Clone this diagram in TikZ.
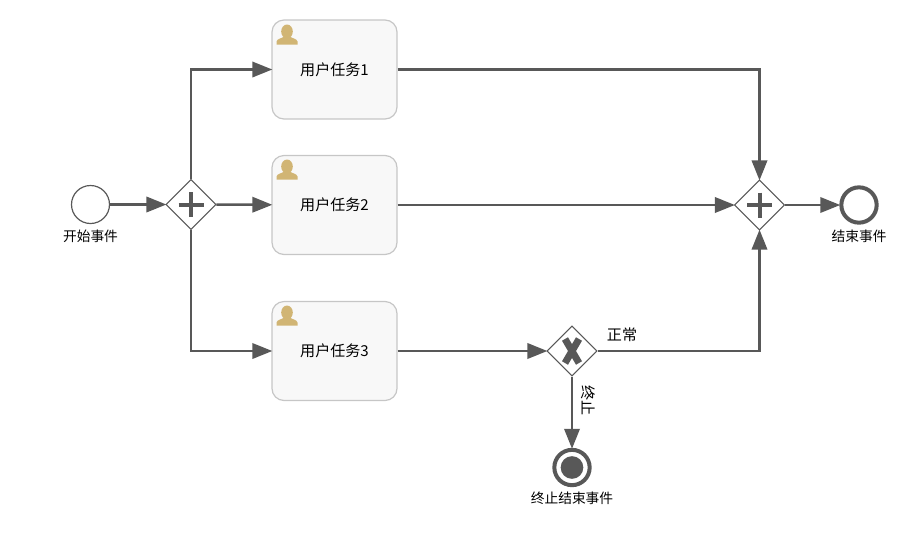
\documentclass[tikz,border=0pt]{standalone}
\usepackage{fontspec}
\setmainfont{Noto Sans CJK SC}
\usetikzlibrary{arrows.meta,positioning,shapes.geometric}
\definecolor{flowgray}{HTML}{585858}
\definecolor{boxgray}{HTML}{C6C6C6}
\definecolor{boxfill}{HTML}{F8F8F8}
\definecolor{icontan}{HTML}{D1B574}
\tikzset{
  flow/.style={draw=flowgray, line width=1.9pt, shorten >=-.7pt, -{Triangle[length=15pt,width=11.5pt]}},
  usertask/.style={draw=boxgray, fill=boxfill, line width=.9pt, rounded corners=9pt,
    minimum width=93.75pt, minimum height=74.25pt, inner sep=0pt, font=\fontsize{11.3}{13}\selectfont},
  gateway/.style={diamond, draw=flowgray, line width=.8pt, fill=white, aspect=1,
    minimum width=37.5pt, minimum height=37.5pt, inner sep=0pt},
  gwplus/.style={gateway, path picture={
    \draw[flowgray, line width=3pt, shift={(path picture bounding box.center)}]
      (-12.5,0)--(12.5,0) (0,-12.5)--(0,12.5);}},
  gwcross/.style={gateway, path picture={
    \draw[flowgray, line width=5.2pt, shift={(path picture bounding box.center)}]
      (-7,-12)--(7,12) (7,-12)--(-7,12);}},
  startev/.style={circle, draw=flowgray, line width=.9pt, fill=white, minimum size=28.5pt, inner sep=0pt},
  endev/.style={circle, draw=flowgray, line width=3pt, fill=white, minimum size=26.5pt, inner sep=0pt},
  termev/.style={endev, path picture={
    \fill[flowgray] (path picture bounding box.center) circle (8.5pt);}},
  evlabel/.style={inner sep=0pt, font=\fontsize{10.3}{12}\selectfont},
  flowlabel/.style={inner sep=0pt, font=\fontsize{11.3}{13}\selectfont},
  usericon/.pic={
    \fill[icontan] (0,-13) ellipse (5.8 and 7);
    \fill[icontan] (-10.5,0) -- (-10.5,-3) .. controls (-10,-6) and (-5,-6) .. (-3,-8)
      -- (3,-8) .. controls (5,-6) and (10,-6) .. (10.5,-3) -- (10.5,0) -- cycle;}
}
\begin{document}
\begin{tikzpicture}[x=.75pt, y=-.75pt]
\useasboundingbox (0,0) rectangle (919,540);
% events and gateways
\node[startev] (start) at (90.5,204.5) {};
\node[evlabel, below=4pt of start] (startlabel) {开始事件};
\node[gwplus] (fork) at (191,204.5) {};
\node[gwplus] (join) at (759.5,205) {};
\node[gwcross] (choice) at (572,351) {};
\node[endev] (finish) at (859,205) {};
\node[evlabel, below=4pt of finish] (finishlabel) {结束事件};
\node[termev] (stop) at (572,467.5) {};
\node[evlabel, below=3.5pt of stop] (stoplabel) {终止结束事件};
% user tasks
\node[usertask] (task1) at (334.5,69.5) {用户任务1};
\node[usertask] (task2) at (334.5,205) {用户任务2};
\node[usertask] (task3) at (334.5,351) {用户任务3};
\pic at (287,44.5) {usericon};
\pic at (287,179.5) {usericon};
\pic at (287,325.5) {usericon};
% sequence flows
\draw[flow] (start) -- (fork);
\draw[flow] (fork.north) |- (task1.west);
\draw[flow] (fork) -- (task2);
\draw[flow] (fork.south) |- (task3.west);
\draw[flow] (task1.east) -| (join.north);
\draw[flow] (task2) -- (join);
\draw[flow] (task3) -- (choice);
\draw[flow] (choice.east) -| (join.south);
\draw[flow] (join) -- (finish);
\draw[flow] (choice.south) -- (stop.north);
\node[flowlabel] (normal) at (622,335) {正常};
\node[flowlabel, rotate=-90] (abort) at (588,400.5) {终止};
\end{tikzpicture}
\end{document}
